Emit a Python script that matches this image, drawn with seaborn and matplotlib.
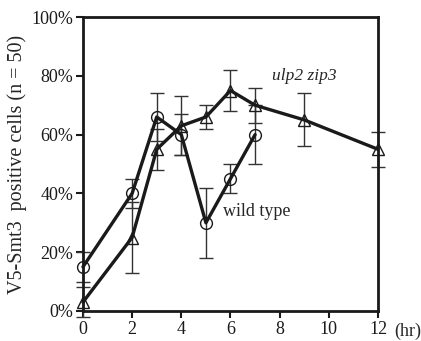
import numpy as np
import pandas as pd
import seaborn as sns
import matplotlib.pyplot as plt

# data
wt_hr = [0, 2, 3, 4, 5, 6, 7]
wt_pct = [15, 40, 66, 60, 30, 45, 60]
wt_err = [5, 5, 8, 7, 12, 5, 10]

mut_hr = [0, 2, 3, 4, 5, 6, 7, 9, 12]
mut_pct = [3, 25, 55, 63, 66, 75, 70, 65, 55]
mut_err = [5, 12, 7, 10, 4, 7, 6, 9, 6]

x_ticks = [0, 2, 4, 6, 8, 10, 12]
y_ticks = [0, 20, 40, 60, 80, 100]

sns.set_style('ticks')
plt.rcParams['font.family'] = ['Liberation Serif', 'DejaVu Serif']

df_wt = pd.DataFrame({'hr': wt_hr, 'pct': wt_pct})
df_mut = pd.DataFrame({'hr': mut_hr, 'pct': mut_pct})

fig = plt.figure(figsize=(4.21, 3.41), dpi=100)
ax = fig.add_axes([0.197, 0.088, 0.701, 0.862])

for hr, pct, err in [(wt_hr, wt_pct, wt_err), (mut_hr, mut_pct, mut_err)]:
    eb = ax.errorbar(hr, pct, yerr=err, fmt='none', ecolor='#333333',
                     elinewidth=1.0, capsize=5, capthick=1.0, zorder=2)
    for art in eb.lines[1] + eb.lines[2]:
        art.set_clip_on(False)

sns.lineplot(data=df_wt, x='hr', y='pct', ax=ax, color='#1a1a1a', lw=2.4,
             marker='o', markersize=8.5, markerfacecolor='none',
             markeredgecolor='#1a1a1a', markeredgewidth=1.0, zorder=3,
             clip_on=False)
sns.lineplot(data=df_mut, x='hr', y='pct', ax=ax, color='#1a1a1a', lw=2.4,
             marker='^', markersize=8.5, markerfacecolor='none',
             markeredgecolor='#1a1a1a', markeredgewidth=1.0, zorder=3,
             clip_on=False)

ax.set_xlim(0, 12)
ax.set_ylim(0, 100)
ax.set_xticks(x_ticks)
ax.set_yticks(y_ticks)
ax.set_yticklabels([f'{v}%' for v in y_ticks])
ax.tick_params(direction='out', length=5, width=1.5, labelsize=13,
               colors='#1a1a1a', pad=2)
for s in ax.spines.values():
    s.set_linewidth(2.0)
    s.set_color('#1a1a1a')
    s.set_visible(True)
ax.set_xlabel('')
ax.set_ylabel('V5-Smt3  positive cells (n = 50)', fontsize=14.5, labelpad=3)

ax.text(12.65, -4.0, '(hr)', fontsize=13, va='top', ha='left', clip_on=False)
ax.text(7.7, 80, 'ulp2 zip3', fontsize=12.5, style='italic', va='center')
ax.text(5.7, 34, 'wild type', fontsize=13, va='center')

fig.savefig('out.png', dpi=100)
